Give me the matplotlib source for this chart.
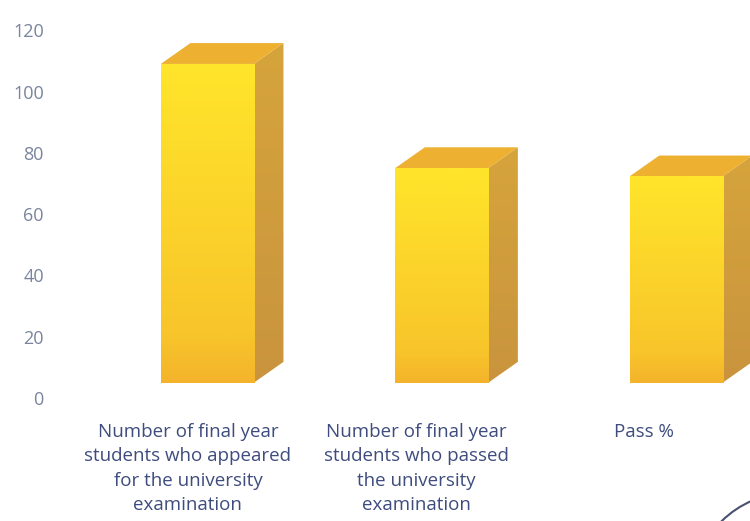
import numpy as np
import matplotlib.pyplot as plt
from matplotlib.patches import Polygon, Arc
from matplotlib.colors import LinearSegmentedColormap

# chart data
categories = [
    "Number of final year\nstudents who appeared\nfor the university\nexamination",
    "Number of final year\nstudents who passed\nthe university\nexamination",
    "Pass %",
]
values = [104, 70, 67.31]
y_ticks = [0, 20, 40, 60, 80, 100, 120]

plt.rcParams['font.family'] = ['Open Sans', 'DejaVu Sans']

fig = plt.figure(figsize=(7.5, 5.21), dpi=100)
ax = fig.add_axes([0.0733, 0.236, 0.9267, 0.706])

# pseudo 3d geometry (data units)
floor = 5
width = 0.408
dx = 0.13
dy = 6.8

front_cmap = LinearSegmentedColormap.from_list(
    "front", [(0, "#F4B32C"), (0.15, "#F8C52A"), (0.6, "#FCD62A"), (1, "#FFE52A")])
side_cmap = LinearSegmentedColormap.from_list("side", ["#C9943E", "#D6A43C"])
grad = np.linspace(0, 1, 256).reshape(-1, 1)

for i, v in enumerate(values):
    shift = 0.085 + 0.028 * i  # perspective drift of the bars to the right
    x0 = i + shift - width / 2
    x1 = x0 + width
    top = floor + v

    side = Polygon([(x1, floor), (x1 + dx, floor + dy), (x1 + dx, top + dy), (x1, top)],
                   closed=True, facecolor="none", edgecolor="none")
    ax.add_patch(side)
    im_s = ax.imshow(grad, cmap=side_cmap, origin="lower", aspect="auto",
                     extent=(x1, x1 + dx, floor, top + dy), zorder=1)
    im_s.set_clip_path(side)

    lid = Polygon([(x0, top), (x0 + dx, top + dy), (x1 + dx, top + dy), (x1, top)],
                  closed=True, facecolor="#EDB030", edgecolor="none", zorder=2)
    ax.add_patch(lid)

    bar = ax.bar(i + shift, v, width=width, bottom=floor, color="none", edgecolor="none")[0]
    im = ax.imshow(grad, cmap=front_cmap, origin="lower", aspect="auto",
                   extent=(x0, x1, floor, top), zorder=3)
    im.set_clip_path(bar)

ax.set_xlim(-0.583, 2.465)
ax.set_ylim(0, 120)
ax.set_yticks(y_ticks)
ax.set_xticks(range(len(categories)))
ax.set_xticklabels(categories, fontsize=13.5, color="#3E4C7E", linespacing=1.45, va="top")
ax.tick_params(axis="y", length=0, pad=8, labelsize=13, labelcolor="#7A849E")
ax.tick_params(axis="x", length=0, pad=18)
for s in ax.spines.values():
    s.set_visible(False)

# edge of the stamp in the lower right corner
stamp = Arc((7.9, -0.69), 1.94, 1.94, transform=fig.dpi_scale_trans,
            color="#4A5070", lw=1.5)
fig.patches.append(stamp)

fig.savefig("out.png", dpi=100)
